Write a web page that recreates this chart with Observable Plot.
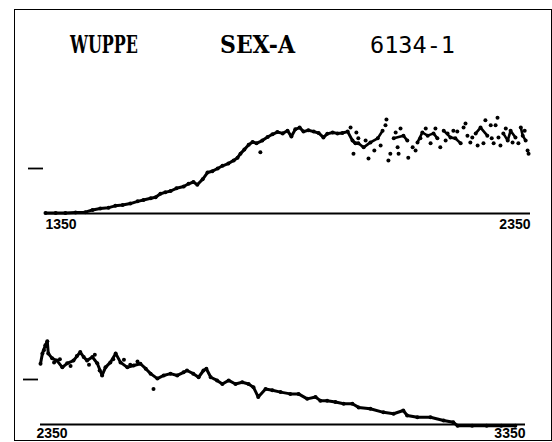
<!DOCTYPE html>
<html><head><meta charset="utf-8">
<script src="https://cdn.jsdelivr.net/npm/d3@7"></script>
<script src="https://cdn.jsdelivr.net/npm/@observablehq/plot@0.6"></script>
<style>
body{margin:0;background:#fff;}
#wrap{position:relative;width:552px;height:442px;overflow:hidden;background:#fff;}
#frame{position:absolute;left:14px;top:9px;width:538px;height:432px;border:1.5px solid #000;box-sizing:border-box;}
.abs{position:absolute;left:0;}
</style>
</head><body>
<div id="wrap"><div id="frame"></div></div>
<script>
// Title texts
const titleTexts = ["WUPPE", "SEX-A", "6134-1"];

// Top panel: 1350–2350
const topTicks = [1350, 2350];
const topLineWave = [1350,1371,1391,1412,1432,1447,1463,1480,1494,1509,1525,1540,1552,1567,1577,1587,1597,1608,1620,1635,1645,1655,1663,1674,1684,1694,1705,1715,1727,1738,1746,1752,1760,1769,1777,1785,1797,1808,1818,1828,1839,1849,1857,1865,1874,1882,1892,1903,1913,1923,1931,1942,1952,1962,1973,1983,1989,1995];
const topLineFlux = [0.01,0.01,0.01,0.02,0.03,0.08,0.11,0.13,0.17,0.19,0.22,0.27,0.30,0.34,0.36,0.44,0.47,0.50,0.56,0.60,0.66,0.70,0.64,0.76,0.91,0.94,1.00,1.06,1.11,1.18,1.24,1.33,1.42,1.53,1.59,1.56,1.62,1.70,1.76,1.81,1.78,1.84,1.71,1.87,1.91,1.82,1.85,1.82,1.79,1.69,1.77,1.80,1.78,1.79,1.82,1.62,1.56,1.56];
// connected pieces of the noisy part (null = gap)
const topNoisyWave = [1995,2006,2020,2035,2045,2050,2068,2088,2096,2100,2117,2127,2138,2150,2158,2160,2171,2185,2195,2206,2210,2237,2247,2261,2265,2294,2303,2309,2319,2322,2330,2334,2340];
const topNoisyFlux = [1.56,1.47,1.58,1.67,1.84,null,1.67,1.73,1.62,null,1.58,1.80,1.73,1.78,1.67,null,1.84,1.69,1.67,1.56,null,1.78,1.91,1.73,null,1.78,1.62,1.84,1.69,null,1.91,1.73,1.62];
const topScatterWave = [1793,1979,1985,1991,1995,2006,2010,2016,2020,2028,2035,2041,2045,2051,2053,2057,2061,2068,2072,2076,2078,2082,2088,2096,2098,2107,2113,2117,2123,2127,2134,2138,2144,2150,2154,2158,2164,2171,2175,2179,2185,2191,2195,2199,2206,2212,2216,2220,2226,2230,2237,2241,2247,2253,2257,2261,2268,2270,2274,2278,2282,2284,2288,2294,2299,2303,2309,2313,2319,2325,2330,2334,2338,2340,2344,2346];
const topScatterFlux = [1.36,1.91,1.33,1.80,1.67,1.47,1.62,1.22,1.58,1.40,1.67,1.51,1.84,1.96,2.09,1.18,1.33,1.67,1.80,1.47,1.33,1.89,1.73,1.62,1.24,1.47,1.40,1.58,1.67,1.80,1.89,1.73,1.56,1.78,1.89,1.67,1.47,1.84,1.62,1.78,1.69,1.84,1.67,1.82,1.56,1.91,2.00,1.73,1.58,1.69,1.78,1.51,1.91,1.56,2.07,1.73,1.96,1.67,1.56,1.96,2.13,1.69,1.51,1.78,1.89,1.62,1.84,1.58,1.69,1.56,1.91,1.73,1.84,1.62,1.40,1.33];

// Bottom panel: 2350–3350
const bottomTicks = [2350, 3350];
const bottomLineWave = [2350,2354,2360,2364,2366,2374,2384,2395,2405,2418,2432,2439,2446,2457,2467,2477,2484,2494,2505,2515,2529,2542,2556,2567,2577,2591,2604,2618,2632,2645,2652,2665,2676,2686,2692,2701,2714,2725,2738,2752,2766,2779,2789,2799,2814,2828,2845,2865,2882,2900,2917,2927,2941,2958,2975,2993,3006,3030,3057,3078,3098,3106,3127,3154,3181,3201,3210,3240,3270,3300,3329];
const bottomLineFlux = [1.35,1.58,1.76,1.85,1.58,1.47,1.42,1.27,1.36,1.42,1.61,1.50,1.42,1.50,1.36,1.09,1.27,1.38,1.58,1.38,1.27,1.31,1.35,1.24,1.13,1.02,1.09,1.13,1.09,1.16,1.20,1.13,1.05,1.20,1.24,1.05,0.98,0.90,0.98,0.90,0.94,0.90,0.83,0.61,0.79,0.76,0.72,0.68,0.68,0.57,0.61,0.53,0.53,0.50,0.46,0.46,0.38,0.35,0.27,0.24,0.31,0.20,0.16,0.16,0.09,0.05,-0.03,-0.03,-0.03,-0.03,-0.03];
const bottomScatterWave = [2357,2378,2390,2412,2425,2450,2462,2472,2500,2522,2535,2550,2583];
const bottomScatterFlux = [1.65,1.38,1.45,1.30,1.52,1.33,1.55,1.20,1.45,1.44,1.33,1.40,0.79];

const rows = (ws, fs) => ws.map((w, i) => ({w, f: fs[i]}));
const topLine = rows(topLineWave, topLineFlux);
const topNoisy = rows(topNoisyWave, topNoisyFlux);
const topScatter = rows(topScatterWave, topScatterFlux);
const bottomLine = rows(bottomLineWave, bottomLineFlux);
const bottomScatter = rows(bottomScatterWave, bottomScatterFlux);

const wrap = document.getElementById("wrap");

// Title overlay
const tsvg = d3.create("svg").attr("width", 552).attr("height", 80)
  .attr("class", "abs").style("top", "0px");
const titleX = [70, 220, 370];
const titleW = [68, 75, 85];
const titleSize = [25, 25, 23];
const titleFont = ["'DejaVu Serif Condensed', 'DejaVu Serif', serif", "'DejaVu Serif Condensed', 'DejaVu Serif', serif", "'DejaVu Sans Mono', monospace"];
const titleWeight = ["bold", "bold", "normal"];
titleTexts.forEach((t, i) => {
  tsvg.append("text").attr("x", titleX[i]).attr("y", 53)
    .attr("font-family", titleFont[i]).attr("font-weight", titleWeight[i])
    .attr("font-size", titleSize[i]).attr("fill", "#000")
    .attr("textLength", titleW[i]).attr("lengthAdjust", "spacingAndGlyphs")
    .text(t);
});
wrap.appendChild(tsvg.node());

function panel(line, noisy, scatter, ticks, opts) {
  const lab = {tickSize: 0, tickPadding: opts.pad, fontSize: 14, fontWeight: "bold",
    fontFamily: "Liberation Sans, Arial, sans-serif", tickFormat: d => String(d), label: null};
  const p = Plot.plot({
    width: 552, height: opts.height,
    marginLeft: opts.ml, marginRight: opts.mr, marginTop: opts.mt, marginBottom: opts.mb,
    x: {domain: ticks, label: null},
    y: {domain: [0, 2.5], label: null},
    style: {background: "transparent", overflow: "visible"},
    marks: [
      Plot.ruleY([0], {strokeWidth: 1.8}),
      Plot.axisY({ticks: [1], tickSize: 15, tickFormat: () => "", dx: -2, strokeWidth: 1.8, label: null}),
      Plot.axisX({...lab, ticks: [ticks[0]], textAnchor: "start", dx: opts.dx0}),
      Plot.axisX({...lab, ticks: [ticks[1]], textAnchor: "end"}),
      Plot.line(line, {x: "w", y: "f", strokeWidth: 3, strokeLinejoin: "round", strokeLinecap: "round"}),
      Plot.line(noisy, {x: "w", y: "f", strokeWidth: 2.6, strokeLinejoin: "round", strokeLinecap: "round"}),
      Plot.dot(line, {x: "w", y: "f", r: 2, fill: "black", stroke: "none"}),
      Plot.dot(scatter, {x: "w", y: "f", r: 2, fill: "black", stroke: "none"})
    ]
  });
  p.classList.add("abs");
  p.style.top = opts.top + "px";
  p.style.position = "absolute";
  wrap.appendChild(p);
}

panel(topLine, topNoisy, topScatter, topTicks, {height: 240, top: 0, ml: 45, mr: 22, mt: 100.5, mb: 27, pad: 6, dx0: 0});
panel(bottomLine, [], bottomScatter, bottomTicks, {height: 202, top: 240, ml: 40, mr: 27, mt: 71.5, mb: 18, pad: 4, dx0: -4});
</script>
</body></html>
